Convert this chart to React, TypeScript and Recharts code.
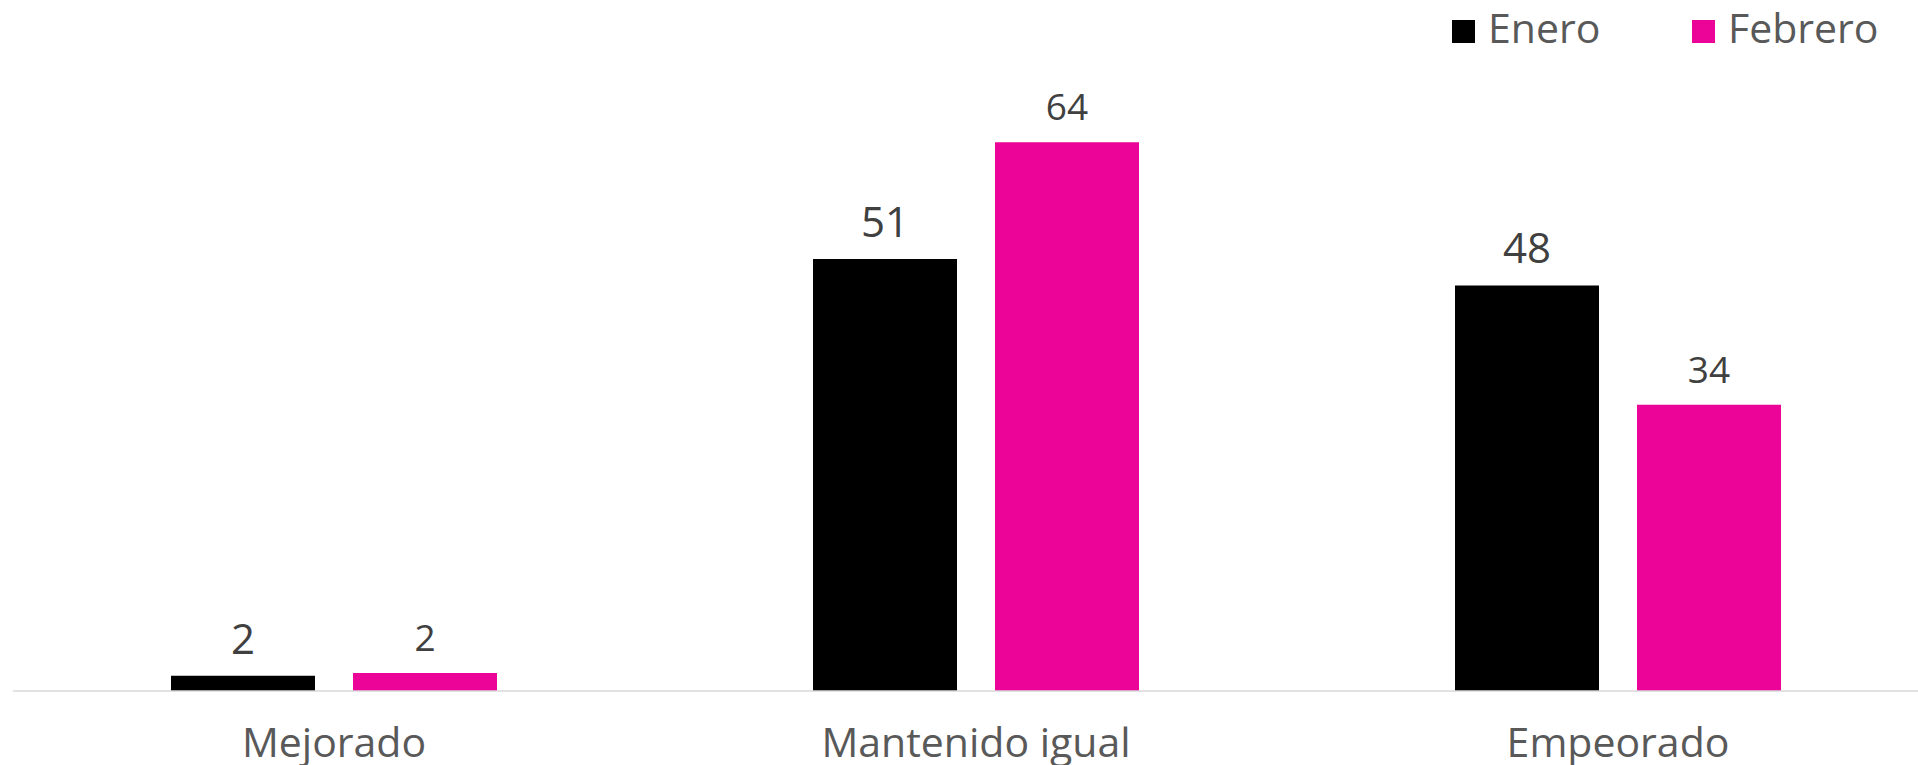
import React from "react";
import { BarChart, Bar, XAxis, YAxis, Legend, LabelList } from "recharts";

const categories = ["Mejorado", "Mantenido igual", "Empeorado"];
const enero = [1.8, 50.7, 47.6];
const febrero = [2.1, 64.4, 33.6];
const seriesNames = ["Enero", "Febrero"];
const colors = ["#000000", "#EC0397"];

const data = categories.map((c, i) => ({ name: c, enero: enero[i], febrero: febrero[i] }));

const FONT = "'Open Sans', sans-serif";

const makeLabel = (fontSize: number) => (props: any) => {
  const { x, y, width, value } = props;
  return (
    <text
      x={Number(x) + Number(width) / 2}
      y={Number(y) - 22}
      textAnchor="middle"
      fill="#404040"
      fontSize={fontSize}
      fontFamily={FONT}
    >
      {Math.round(Number(value))}
    </text>
  );
};

const Tick = (props: any) => {
  const { x, y, payload } = props;
  return (
    <text x={x} y={y + 66} textAnchor="middle" fill="#595959" fontSize={41} fontFamily={FONT}>
      {payload.value}
    </text>
  );
};

const legendX = [1452, 1692];

const LegendContent = (props: any) => {
  const payload = props.payload || [];
  return (
    <div style={{ position: "relative", height: 0 }}>
      <svg width={1918} height={60} style={{ position: "absolute", left: 0, top: 0, overflow: "visible" }}>
        {payload.map((p: any, i: number) => (
          <g key={i}>
            <rect x={legendX[i]} y={20} width={23} height={23} fill={p.color} />
            <text x={legendX[i] + 36} y={43} fill="#595959" fontSize={41} fontFamily={FONT}>
              {p.value}
            </text>
          </g>
        ))}
      </svg>
    </div>
  );
};

export default function App() {
  return (
    <div style={{ position: "absolute", left: 0, top: 0, width: 1918, height: 765, overflow: "hidden", background: "#fff" }}>
      <BarChart
        width={1939}
        height={765}
        data={data}
        margin={{ top: 94.6, right: 0, bottom: 0, left: 13 }}
        barSize={144}
        barGap={38}
      >
        <XAxis
          dataKey="name"
          height={74}
          tickLine={false}
          tickSize={0}
          tickMargin={0}
          axisLine={{ stroke: "#d9d9d9", strokeWidth: 1.5 }}
          tick={<Tick />}
          interval={0}
        />
        <YAxis hide domain={[0, 70]} />
        <Legend
          verticalAlign="top"
          content={<LegendContent />}
          wrapperStyle={{ top: 0, left: 0, width: 1918 }}
        />
        <Bar dataKey="enero" name={seriesNames[0]} fill={colors[0]} isAnimationActive={false}>
          <LabelList dataKey="enero" content={makeLabel(42)} />
        </Bar>
        <Bar dataKey="febrero" name={seriesNames[1]} fill={colors[1]} isAnimationActive={false}>
          <LabelList dataKey="febrero" content={makeLabel(37)} />
        </Bar>
      </BarChart>
    </div>
  );
}
